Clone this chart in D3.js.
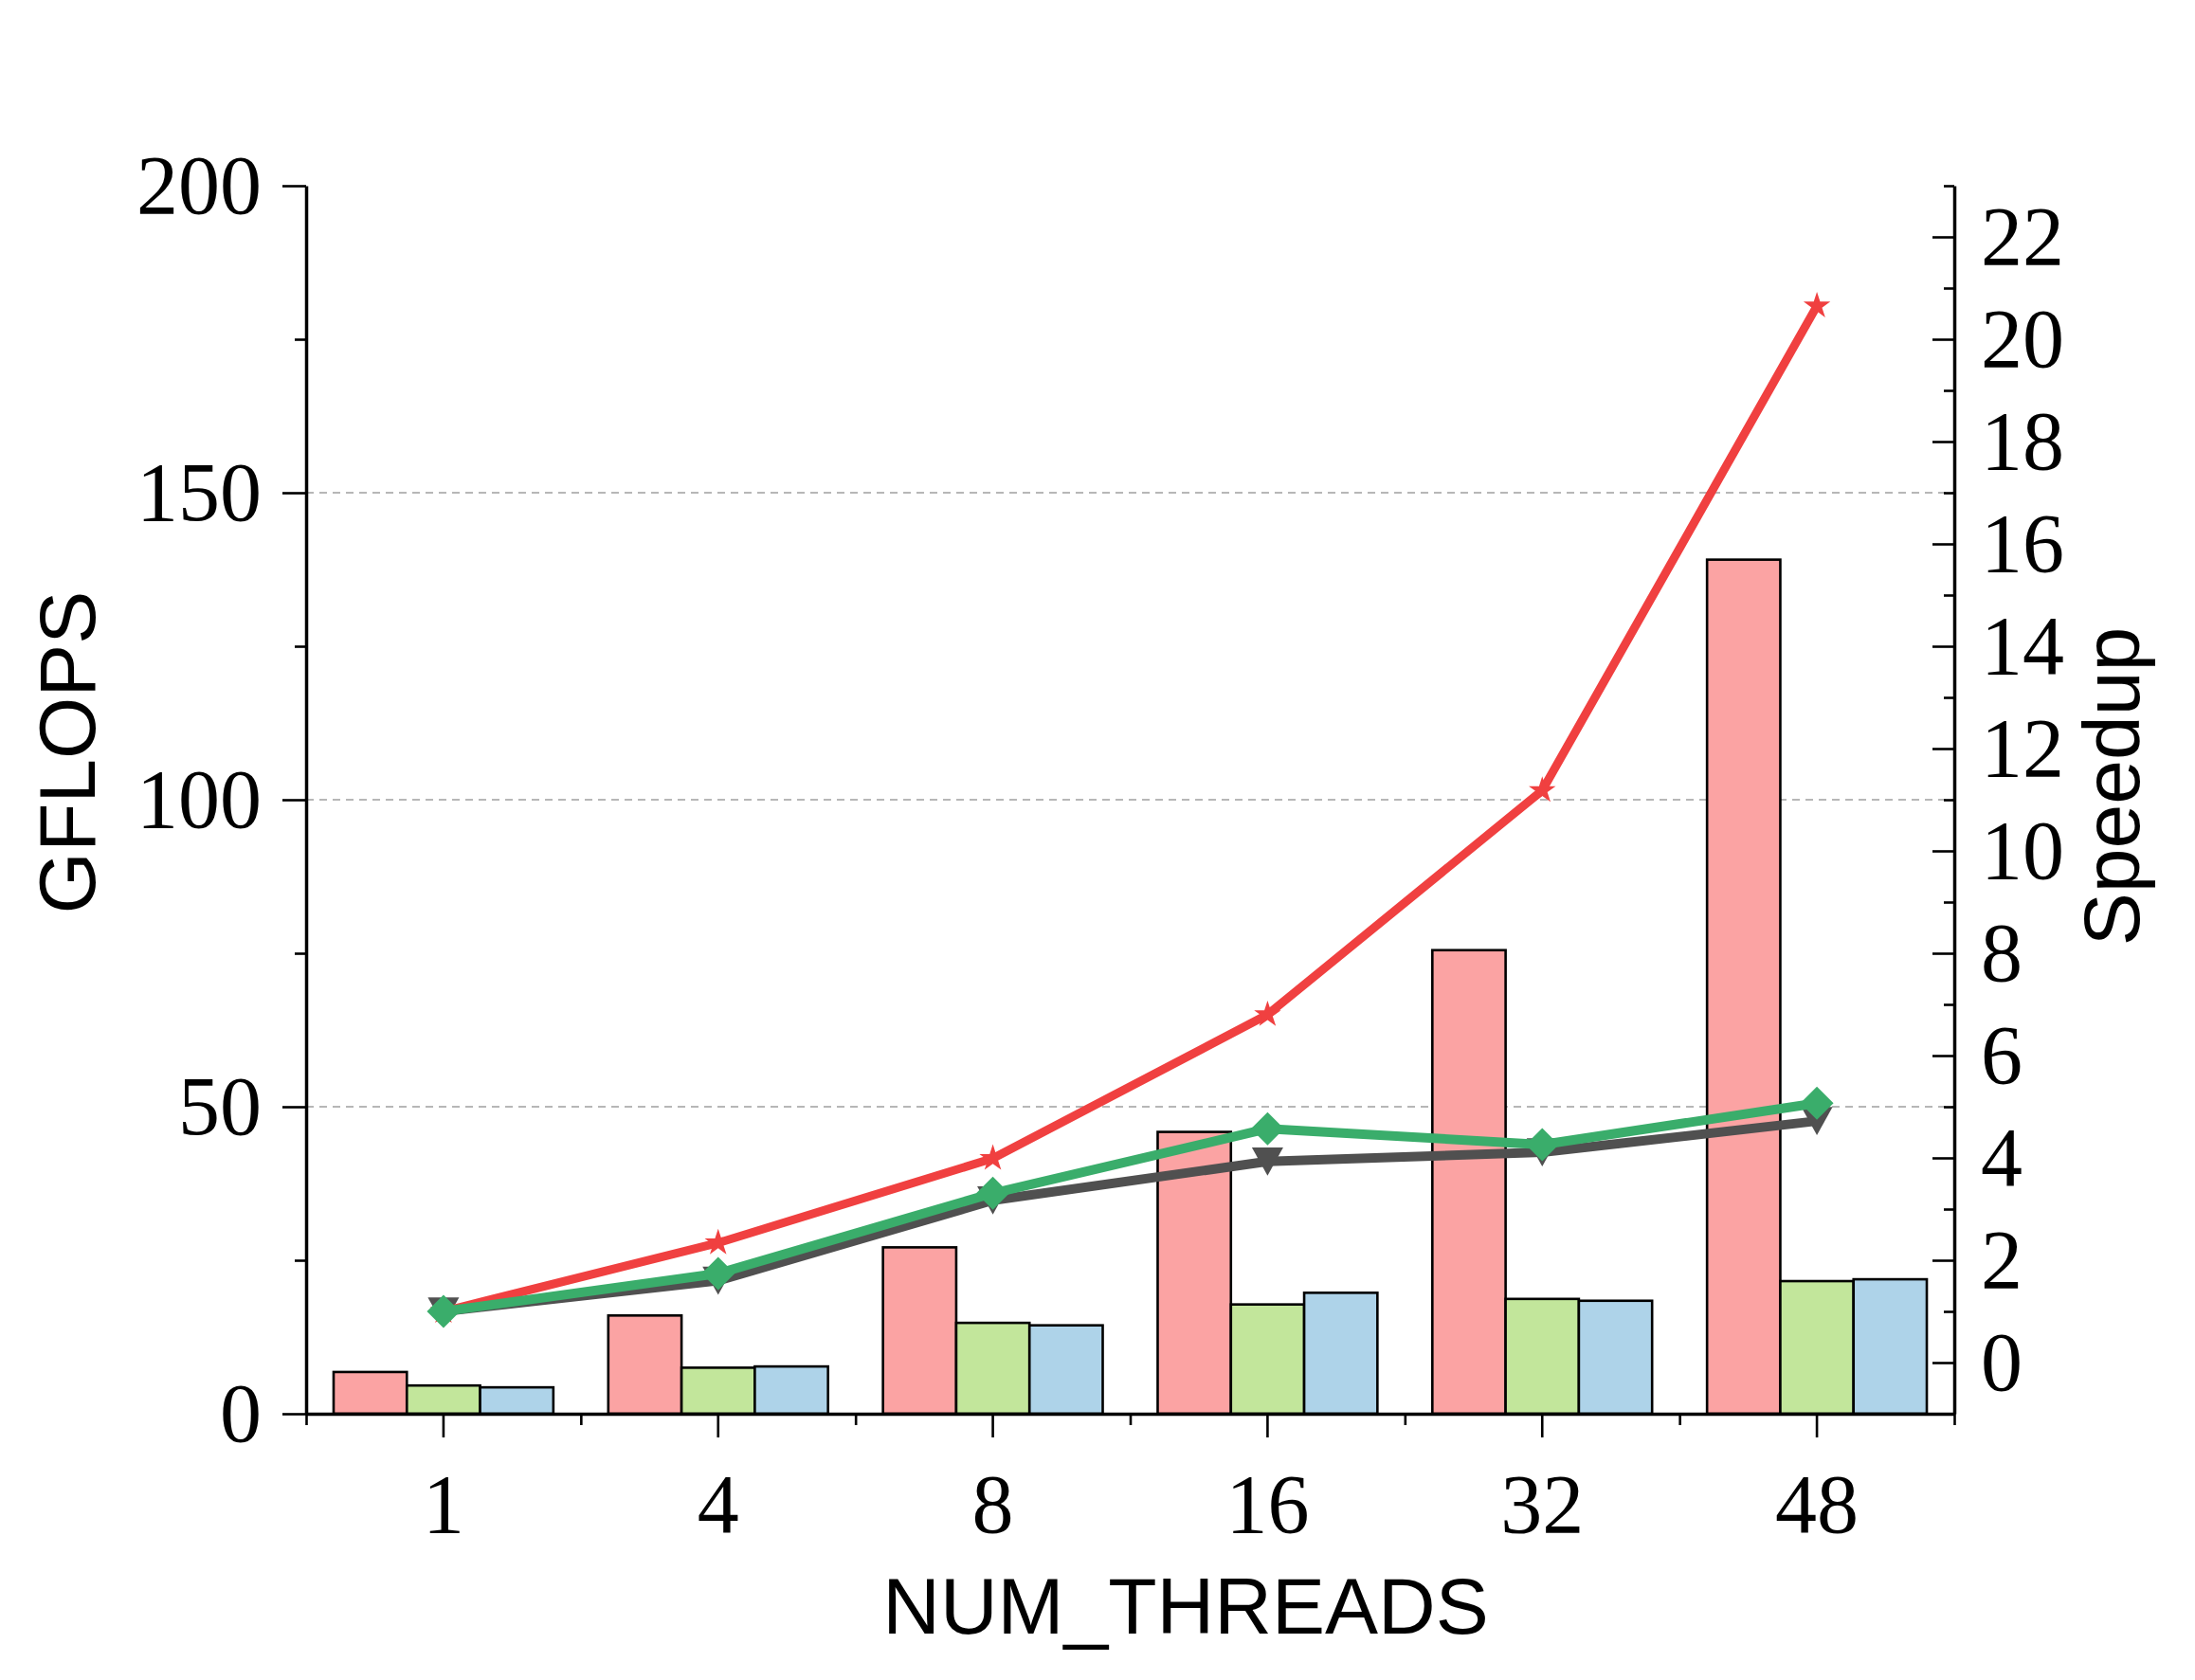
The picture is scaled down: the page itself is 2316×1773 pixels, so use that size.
<!DOCTYPE html>
<html>
<head>
<meta charset="utf-8">
<script src="https://cdn.jsdelivr.net/npm/d3@7"></script>
<style>
  body { margin: 0; background: #fff; }
  .tick text { font-family: "Liberation Serif", "Times New Roman", serif; font-size: 88px; fill: #000; }
  .lab { font-family: "Liberation Sans", Arial, sans-serif; font-size: 84px; fill: #000; }
</style>
</head>
<body>
<script>
// chart data
const threads = ["1", "4", "8", "16", "32", "48"];
const barSeries = ["a", "b", "c"];
const gflopsA = [6.8, 16.0, 27.1, 45.9, 75.5, 139.1];
const gflopsB = [4.6, 7.5, 14.8, 17.8, 18.7, 21.6];
const gflopsC = [4.3, 7.7, 14.4, 19.7, 18.4, 21.9];
const speedupGray = [1.0, 1.6, 3.17, 3.93, 4.11, 4.72];
const speedupGreen = [1.0, 1.74, 3.31, 4.57, 4.26, 5.07];
const speedupRed = [1.0, 2.34, 3.99, 6.8, 11.18, 20.65];
const leftTicks = [0, 50, 100, 150, 200];
const leftMinor = [25, 75, 125, 175];
const rightTicks = [0, 2, 4, 6, 8, 10, 12, 14, 16, 18, 20, 22];
const rightMinor = [-1, 1, 3, 5, 7, 9, 11, 13, 15, 17, 19, 21, 23];

let W = 2316, H = 1773;
let plot = {left: 323, right: 2062, top: 196, bottom: 1492};
let svg = null;
let x0, x1, y, y2;

const barColors = ["#fba3a3", "#c2e69b", "#aed3e9"];

// custom marker shapes (matplotlib-like), size = bounding box edge
const diamondSym = {
  draw(ctx, size) {
    let w = size * 0.5, h = size * 0.5;
    ctx.moveTo(0, -h); ctx.lineTo(w, 0); ctx.lineTo(0, h); ctx.lineTo(-w, 0); ctx.closePath();
  }
};
const triDownSym = {
  draw(ctx, size) {
    let w = size * 0.5, h = size * 0.45;
    ctx.moveTo(-w, -h); ctx.lineTo(w, -h); ctx.lineTo(0, h); ctx.closePath();
  }
};

setupSvg("body");
setupScales();
appendGrid();
appendBars();
appendLines();
appendAxes();
appendLabels();

function setupSvg(el) {
  svg = d3.select(el).append("svg")
    .attr("width", W)
    .attr("height", H);
}

function setupScales() {
  x0 = d3.scaleBand().domain(threads).range([plot.left, plot.right]).padding(0);
  let bw = x0.bandwidth();
  x1 = d3.scaleBand().domain(barSeries).range([bw * 0.1, bw * 0.9]).padding(0);
  y = d3.scaleLinear().domain([0, 200]).range([plot.bottom, plot.top]);
  y2 = d3.scaleLinear().domain([-1, 23]).range([plot.bottom, plot.top]);
}

function appendGrid() {
  svg.append("g").selectAll("line")
    .data([50, 100, 150])
    .enter().append("line")
    .attr("x1", plot.left).attr("x2", plot.right)
    .attr("y1", d => y(d)).attr("y2", d => y(d))
    .attr("stroke", "#a0a0a0")
    .attr("stroke-width", 1.6)
    .attr("stroke-dasharray", "8,6");
}

function appendBars() {
  let rows = threads.map((t, i) => ({t: t, vals: [gflopsA[i], gflopsB[i], gflopsC[i]]}));
  let groups = svg.append("g").selectAll("g")
    .data(rows).enter().append("g")
    .attr("transform", d => `translate(${x0(d.t)},0)`);

  groups.selectAll("rect")
    .data(d => d.vals.map((v, j) => ({s: barSeries[j], v: v, j: j})))
    .enter().append("rect")
    .attr("x", d => x1(d.s))
    .attr("y", d => y(d.v))
    .attr("width", x1.bandwidth())
    .attr("height", d => y(0) - y(d.v))
    .attr("fill", d => barColors[d.j])
    .attr("stroke", "#000")
    .attr("stroke-width", 2.6);
}

function appendLine(vals, color, width, symType, symSize) {
  let line = d3.line()
    .x((d, i) => x0(threads[i]) + x0.bandwidth() / 2)
    .y(d => y2(d));
  svg.append("path")
    .datum(vals)
    .attr("d", line)
    .attr("fill", "none")
    .attr("stroke", color)
    .attr("stroke-width", width)
    .attr("stroke-linejoin", "round");
  svg.append("g").selectAll("path")
    .data(vals).enter().append("path")
    .attr("d", d3.symbol().type(symType).size(symSize))
    .attr("transform", (d, i) => `translate(${x0(threads[i]) + x0.bandwidth() / 2},${y2(d)})`)
    .attr("fill", color);
}

function appendLines() {
  appendLine(speedupGray, "#505050", 10, triDownSym, 33);
  appendLine(speedupRed, "#f04040", 9, d3.symbolStar, 250);
  appendLine(speedupGreen, "#3aad6b", 10, diamondSym, 35);
}

function styleAxis(g) {
  g.selectAll(".domain").attr("stroke", "#000").attr("stroke-width", 3.5);
  g.selectAll(".tick line").attr("stroke", "#000").attr("stroke-width", 2.6);
}

function appendAxes() {
  // left y axis
  let gl = svg.append("g")
    .attr("transform", `translate(${plot.left},0)`)
    .call(d3.axisLeft(y).tickValues(leftTicks).tickSize(25).tickSizeOuter(0).tickPadding(22));
  gl.attr("font-family", null).attr("font-size", null);
  styleAxis(gl);
  let glm = svg.append("g")
    .attr("transform", `translate(${plot.left},0)`)
    .call(d3.axisLeft(y).tickValues(leftMinor).tickSize(12).tickFormat(""));
  glm.select(".domain").remove();
  styleAxis(glm);

  // right y axis (ticks inward)
  let gr = svg.append("g")
    .attr("transform", `translate(${plot.right},0)`)
    .call(d3.axisRight(y2).tickValues(rightTicks).tickSize(-23).tickSizeOuter(0).tickPadding(28));
  gr.attr("font-family", null).attr("font-size", null);
  styleAxis(gr);
  let grm = svg.append("g")
    .attr("transform", `translate(${plot.right},0)`)
    .call(d3.axisRight(y2).tickValues(rightMinor).tickSize(-11).tickFormat(""));
  grm.select(".domain").remove();
  styleAxis(grm);

  // bottom x axis
  let gb = svg.append("g")
    .attr("transform", `translate(0,${plot.bottom})`)
    .call(d3.axisBottom(x0).tickSize(25).tickSizeOuter(0).tickPadding(38));
  gb.attr("font-family", null).attr("font-size", null);
  styleAxis(gb);
  let edge = d3.scaleLinear().domain([0, threads.length]).range([plot.left, plot.right]);
  let gbm = svg.append("g")
    .attr("transform", `translate(0,${plot.bottom})`)
    .call(d3.axisBottom(edge).tickValues(d3.range(threads.length + 1)).tickSize(12).tickFormat(""));
  gbm.select(".domain").remove();
  styleAxis(gbm);
}

function appendLabels() {
  svg.append("text").attr("class", "lab")
    .attr("transform", "translate(100,794) rotate(-90)")
    .attr("text-anchor", "middle")
    .text("GFLOPS");
  svg.append("text").attr("class", "lab")
    .attr("transform", "translate(2257,830) rotate(-90)")
    .attr("text-anchor", "middle")
    .text("Speedup");
  svg.append("text").attr("class", "lab")
    .attr("x", 1251).attr("y", 1724)
    .attr("text-anchor", "middle")
    .text("NUM_THREADS");
}
</script>
</body>
</html>
